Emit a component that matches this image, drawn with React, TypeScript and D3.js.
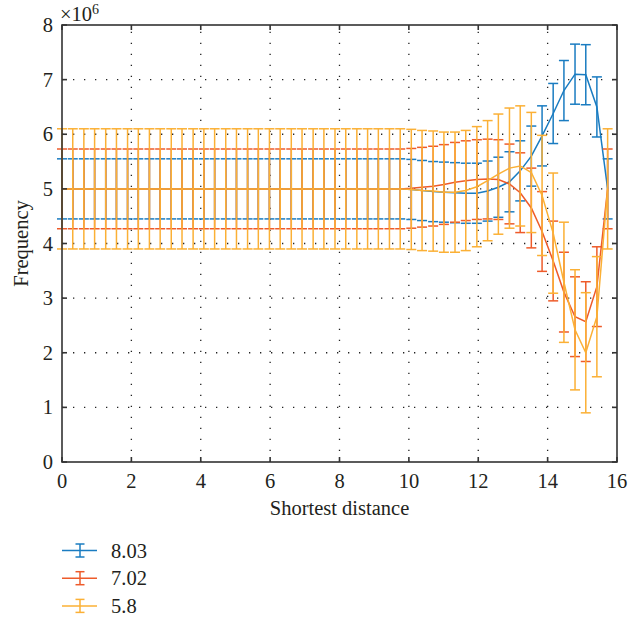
import React from "react";
import * as d3 from "d3";

// Shortest distance (x) sample positions
const xValues = [
  0, 0.31, 0.63, 0.94, 1.26, 1.57, 1.89, 2.2, 2.52, 2.83, 3.15, 3.46, 3.78, 4.09, 4.4, 4.72,
  5.03, 5.35, 5.66, 5.98, 6.29, 6.61, 6.92, 7.24, 7.55, 7.87, 8.18, 8.5, 8.81, 9.12, 9.44, 9.75,
  10.07, 10.38, 10.7, 11.01, 11.33, 11.64, 11.96, 12.27, 12.58, 12.9, 13.21, 13.53, 13.84, 14.16,
  14.47, 14.79, 15.1, 15.42, 15.73,
];

// Frequency means (×10^6)
const series803 = [
  5, 5, 5, 5, 5, 5, 5, 5, 5, 5, 5, 5, 5, 5, 5, 5,
  5, 5, 5, 5, 5, 5, 5, 5, 5, 5, 5, 5, 5, 5, 5, 5,
  4.99, 4.97, 4.95, 4.94, 4.93, 4.92, 4.92, 4.96, 5.03, 5.13, 5.33, 5.6, 5.97, 6.38,
  6.8, 7.1, 7.09, 6.5, 5.0,
];
const series702 = [
  5, 5, 5, 5, 5, 5, 5, 5, 5, 5, 5, 5, 5, 5, 5, 5,
  5, 5, 5, 5, 5, 5, 5, 5, 5, 5, 5, 5, 5, 5, 5, 5,
  5.01, 5.03, 5.05, 5.08, 5.12, 5.15, 5.17, 5.18, 5.17, 5.09, 4.93, 4.65, 4.22, 3.68,
  3.11, 2.66, 2.57, 3.21, 5.0,
];
const series58 = [
  5, 5, 5, 5, 5, 5, 5, 5, 5, 5, 5, 5, 5, 5, 5, 5,
  5, 5, 5, 5, 5, 5, 5, 5, 5, 5, 5, 5, 5, 5, 5, 5,
  4.99, 4.97, 4.96, 4.94, 4.94, 4.97, 5.04, 5.15, 5.27, 5.38, 5.42, 5.3, 4.88, 4.19,
  3.29, 2.42, 2.0, 2.66, 5.0,
];

// Error half-widths (×10^6)
const errors = [0.55, 0.73, 1.1];
const seriesNames = ["8.03", "7.02", "5.8"];
const seriesColors = ["#1a7cc1", "#ee5b2a", "#fbb035"];
const xTicks = [0, 2, 4, 6, 8, 10, 12, 14, 16];
const yTicks = [0, 1, 2, 3, 4, 5, 6, 7, 8];

const W = 643;
const H = 620;
const M = { left: 62, right: 617, top: 25, bottom: 462 };
const FONT = "Liberation Serif, Tinos, Times New Roman, Times, Noto Serif, DejaVu Serif, FreeSerif, serif";
const TEXT = "#231f20";
const FS = 20.5;

export default function App() {
  const x = d3.scaleLinear().domain([0, 16]).range([M.left, M.right]);
  const y = d3.scaleLinear().domain([0, 8]).range([M.bottom, M.top]);
  const all = [series803, series702, series58];
  const line = d3
    .line<[number, number]>()
    .x((d) => x(d[0]))
    .y((d) => y(d[1]));
  const capHalf = 5;
  const tickLen = 5;
  const textStyle = { fontFamily: FONT };

  return (
    <svg
      width={W}
      height={H}
      viewBox={`0 0 ${W} ${H}`}
      style={{ position: "absolute", left: 0, top: 0, background: "#fff" }}
    >
      <rect x={0} y={0} width={W} height={H} fill="#fff" />
      {/* grid */}
      <g stroke="#222" strokeWidth={1.3} strokeDasharray="1.3 9.7">
        {xTicks.slice(1, -1).map((t) => (
          <line key={"gx" + t} x1={x(t)} x2={x(t)} y1={M.bottom} y2={M.top} />
        ))}
        {yTicks.slice(1, -1).map((t) => (
          <line key={"gy" + t} x1={M.left} x2={M.right} y1={y(t)} y2={y(t)} />
        ))}
      </g>
      {/* series */}
      {all.map((vals, si) => {
        const c = seriesColors[si];
        const e = errors[si];
        const pts: [number, number][] = xValues.map((xv, i) => [xv, vals[i]]);
        return (
          <g key={"s" + si} stroke={c} fill="none" strokeWidth={1.5}>
            {pts.map(([xv, v], i) => {
              const px = x(xv);
              const yt = y(v + e);
              const yb = y(v - e);
              return (
                <g key={i}>
                  <line x1={px} x2={px} y1={yt} y2={yb} />
                  <line x1={px - capHalf} x2={px + capHalf} y1={yt} y2={yt} />
                  <line x1={px - capHalf} x2={px + capHalf} y1={yb} y2={yb} />
                </g>
              );
            })}
            <path d={line(pts) || ""} />
          </g>
        );
      })}
      {/* axes box */}
      <g stroke="#333" strokeWidth={1.6} fill="none">
        <rect x={M.left} y={M.top} width={M.right - M.left} height={M.bottom - M.top} />
        {xTicks.map((t) => (
          <g key={"tx" + t}>
            <line x1={x(t)} x2={x(t)} y1={M.bottom} y2={M.bottom - tickLen} />
            <line x1={x(t)} x2={x(t)} y1={M.top} y2={M.top + tickLen} />
          </g>
        ))}
        {yTicks.map((t) => (
          <g key={"ty" + t}>
            <line x1={M.left} x2={M.left + tickLen} y1={y(t)} y2={y(t)} />
            <line x1={M.right} x2={M.right - tickLen} y1={y(t)} y2={y(t)} />
          </g>
        ))}
      </g>
      {/* tick labels */}
      <g style={textStyle} fontSize={FS} fill={TEXT}>
        {xTicks.map((t) => (
          <text key={"lx" + t} x={x(t)} y={487.5} textAnchor="middle" style={textStyle}>
            {t}
          </text>
        ))}
        {yTicks.map((t) => (
          <text key={"ly" + t} x={53} y={y(t) + 7} textAnchor="end" style={textStyle}>
            {t}
          </text>
        ))}
        <text x={60} y={20.5} style={textStyle}>
          ×10
          <tspan fontSize={14} dy={-7}>
            6
          </tspan>
        </text>
        <text x={(M.left + M.right) / 2} y={515} textAnchor="middle" style={textStyle}>
          Shortest distance
        </text>
        <text
          transform={`translate(28, ${(M.top + M.bottom) / 2}) rotate(-90)`}
          textAnchor="middle"
          style={textStyle}
        >
          Frequency
        </text>
      </g>
      {/* legend */}
      {seriesNames.map((name, i) => {
        const ly = 550.5 + i * 27.7;
        const c = seriesColors[i];
        return (
          <g key={"lg" + i}>
            <g stroke={c} strokeWidth={1.5}>
              <line x1={62} x2={97} y1={ly} y2={ly} />
              <line x1={80} x2={80} y1={ly - 6.5} y2={ly + 6.5} />
              <line x1={75.5} x2={84.5} y1={ly - 6.5} y2={ly - 6.5} />
              <line x1={75.5} x2={84.5} y1={ly + 6.5} y2={ly + 6.5} />
            </g>
            <text x={111} y={ly + 7} fontSize={FS} fill={TEXT} style={textStyle}>
              {name}
            </text>
          </g>
        );
      })}
    </svg>
  );
}
